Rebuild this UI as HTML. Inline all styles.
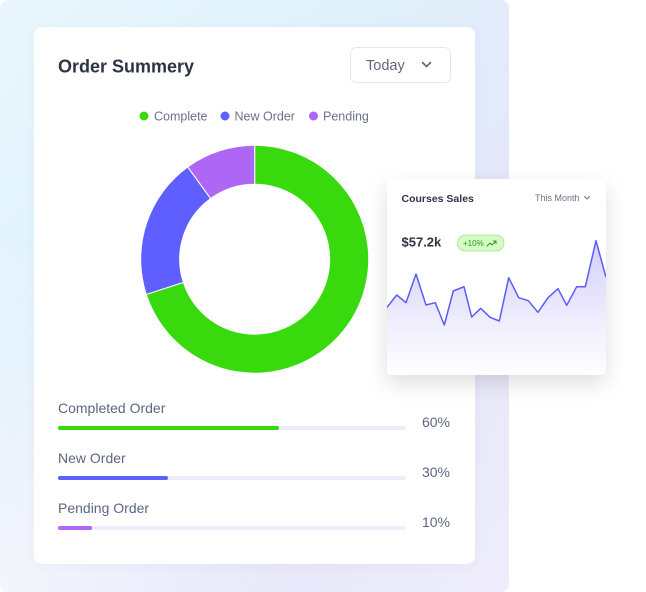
<!DOCTYPE html>
<html><head><meta charset="utf-8"><style>
html,body{margin:0;padding:0;background:#fff;width:646px;height:592px;overflow:hidden}
svg{display:block}
text{font-family:"Liberation Sans",sans-serif}
</style></head><body>
<svg width="646" height="592" viewBox="0 0 646 592" xmlns="http://www.w3.org/2000/svg">
<defs>
<linearGradient id="bg" x1="0" y1="0" x2="1" y2="1">
<stop offset="0" stop-color="#e9f6fd"/>
<stop offset="0.35" stop-color="#dff1fb"/>
<stop offset="0.7" stop-color="#e5e6f9"/>
<stop offset="1" stop-color="#efedfb"/>
</linearGradient>
<radialGradient id="bl" cx="0" cy="1" r="0.6">
<stop offset="0" stop-color="#f6f6fd" stop-opacity="0.9"/>
<stop offset="1" stop-color="#f6f6fd" stop-opacity="0"/>
</radialGradient>
<linearGradient id="area" x1="0" y1="0" x2="0" y2="1">
<stop offset="0" stop-color="#d3cffb"/>
<stop offset="0.6" stop-color="#efedfd"/>
<stop offset="1" stop-color="#ffffff"/>
</linearGradient>
<filter id="sh" x="-30%" y="-30%" width="160%" height="170%">
<feDropShadow dx="0" dy="8" stdDeviation="10" flood-color="#000" flood-opacity="0.13"/>
</filter>
<filter id="sh2" x="-10%" y="-10%" width="120%" height="120%">
<feDropShadow dx="0" dy="2" stdDeviation="4" flood-color="#6070b0" flood-opacity="0.05"/>
</filter>
<clipPath id="cc"><rect x="387" y="179" width="219" height="196" rx="4"/></clipPath>
</defs>

<rect x="0" y="0" width="509" height="592" rx="8" fill="url(#bg)"/>
<rect x="0" y="0" width="509" height="592" rx="8" fill="url(#bl)"/>

<rect x="34" y="27" width="441" height="537" rx="8" fill="#fff" filter="url(#sh2)"/>

<text x="58" y="72.5" font-size="18" font-weight="bold" fill="#2e3446">Order Summery</text>

<rect x="350.5" y="47.5" width="100" height="35" rx="6" fill="#fff" stroke="#e3e6ee"/>
<text x="366" y="70" font-size="14.5" fill="#5f6780">Today</text>
<path d="M422.5 62.5 L426.5 66.5 L430.5 62.5" fill="none" stroke="#5f6780" stroke-width="1.6" stroke-linecap="round" stroke-linejoin="round"/>

<circle cx="144" cy="116" r="4.5" fill="#38d90d"/>
<text x="154" y="120.5" font-size="12.5" fill="#6b7389">Complete</text>
<circle cx="225" cy="116" r="4.5" fill="#5e5ffe"/>
<text x="234.5" y="120.5" font-size="12.5" fill="#6b7389">New Order</text>
<circle cx="313.5" cy="116" r="4.5" fill="#ae66f5"/>
<text x="323" y="120.5" font-size="12.5" fill="#6b7389">Pending</text>

<g transform="translate(254.7 259.2)" stroke="#fff" stroke-width="1">
<!-- green 0..252 -->
<path d="M0 -114 A114 114 0 1 1 -108.42 35.23 L-71.33 23.18 A75 75 0 1 0 0 -75 Z" fill="#38d90d"/>
<!-- blue 252..324 -->
<path d="M-108.42 35.23 A114 114 0 0 1 -67.01 -92.23 L-44.08 -60.68 A75 75 0 0 0 -71.33 23.18 Z" fill="#5e5ffe"/>
<!-- purple 324..360 -->
<path d="M-67.01 -92.23 A114 114 0 0 1 0 -114 L0 -75 A75 75 0 0 0 -44.08 -60.68 Z" fill="#ae66f5"/>
</g>

<text x="58" y="413" font-size="14" fill="#5d6680">Completed Order</text>
<rect x="58" y="426" width="348" height="4" rx="2" fill="#eceffb"/>
<rect x="58" y="426" width="221" height="4" rx="2" fill="#38d90d"/>
<text x="450" y="427" font-size="14" fill="#5d6680" text-anchor="end">60%</text>

<text x="58" y="463" font-size="14" fill="#5d6680">New Order</text>
<rect x="58" y="476" width="348" height="4" rx="2" fill="#eceffb"/>
<rect x="58" y="476" width="110" height="4" rx="2" fill="#5e5ffe"/>
<text x="450" y="477" font-size="14" fill="#5d6680" text-anchor="end">30%</text>

<text x="58" y="513" font-size="14" fill="#5d6680">Pending Order</text>
<rect x="58" y="526" width="348" height="4" rx="2" fill="#eceffb"/>
<rect x="58" y="526" width="34" height="4" rx="2" fill="#ae66f5"/>
<text x="450" y="527" font-size="14" fill="#5d6680" text-anchor="end">10%</text>

<rect x="387" y="179" width="219" height="196" rx="4" fill="#fff" filter="url(#sh)"/>
<g clip-path="url(#cc)">
<path d="M386.7 307.7 L396.7 295 L406 302.7 L416 274 L426 305 L435.3 302.7 L444.3 325 L453.3 291 L464 286.7 L471.7 317 L480.7 308.3 L490 317.3 L499.3 321 L508.7 277.7 L518.7 297.7 L528.3 300.7 L538 312.3 L548 297.7 L558 288.7 L566.7 305.3 L576.7 286.7 L585.3 286.7 L596 240.7 L606 277.3 L606 376 L386.7 376 Z" fill="url(#area)"/>
<path d="M386.7 307.7 L396.7 295 L406 302.7 L416 274 L426 305 L435.3 302.7 L444.3 325 L453.3 291 L464 286.7 L471.7 317 L480.7 308.3 L490 317.3 L499.3 321 L508.7 277.7 L518.7 297.7 L528.3 300.7 L538 312.3 L548 297.7 L558 288.7 L566.7 305.3 L576.7 286.7 L585.3 286.7 L596 240.7 L606 277.3" fill="none" stroke="#5b5cf4" stroke-width="1.5" stroke-linejoin="round"/>
</g>

<text x="401.5" y="202" font-size="10.5" font-weight="bold" fill="#2e3446">Courses Sales</text>
<text x="535" y="201" font-size="9" fill="#6b7389">This Month</text>
<path d="M584.5 196.5 L587 199 L589.5 196.5" fill="none" stroke="#6b7389" stroke-width="1" stroke-linecap="round" stroke-linejoin="round"/>

<text x="401.5" y="246.5" font-size="13" font-weight="bold" fill="#2e3446">$57.2k</text>
<rect x="457.5" y="235" width="46.5" height="16" rx="8" fill="#d6fbc6" stroke="#9fe68a" stroke-width="0.8"/>
<text x="463" y="246" font-size="8" fill="#2c9a1a">+10%</text>
<path d="M487 246 L490 243 L492 245 L496 241 M493.5 241 L496 241 L496 243.5" fill="none" stroke="#2c9a1a" stroke-width="1" stroke-linecap="round" stroke-linejoin="round"/>
</svg>
</body></html>
